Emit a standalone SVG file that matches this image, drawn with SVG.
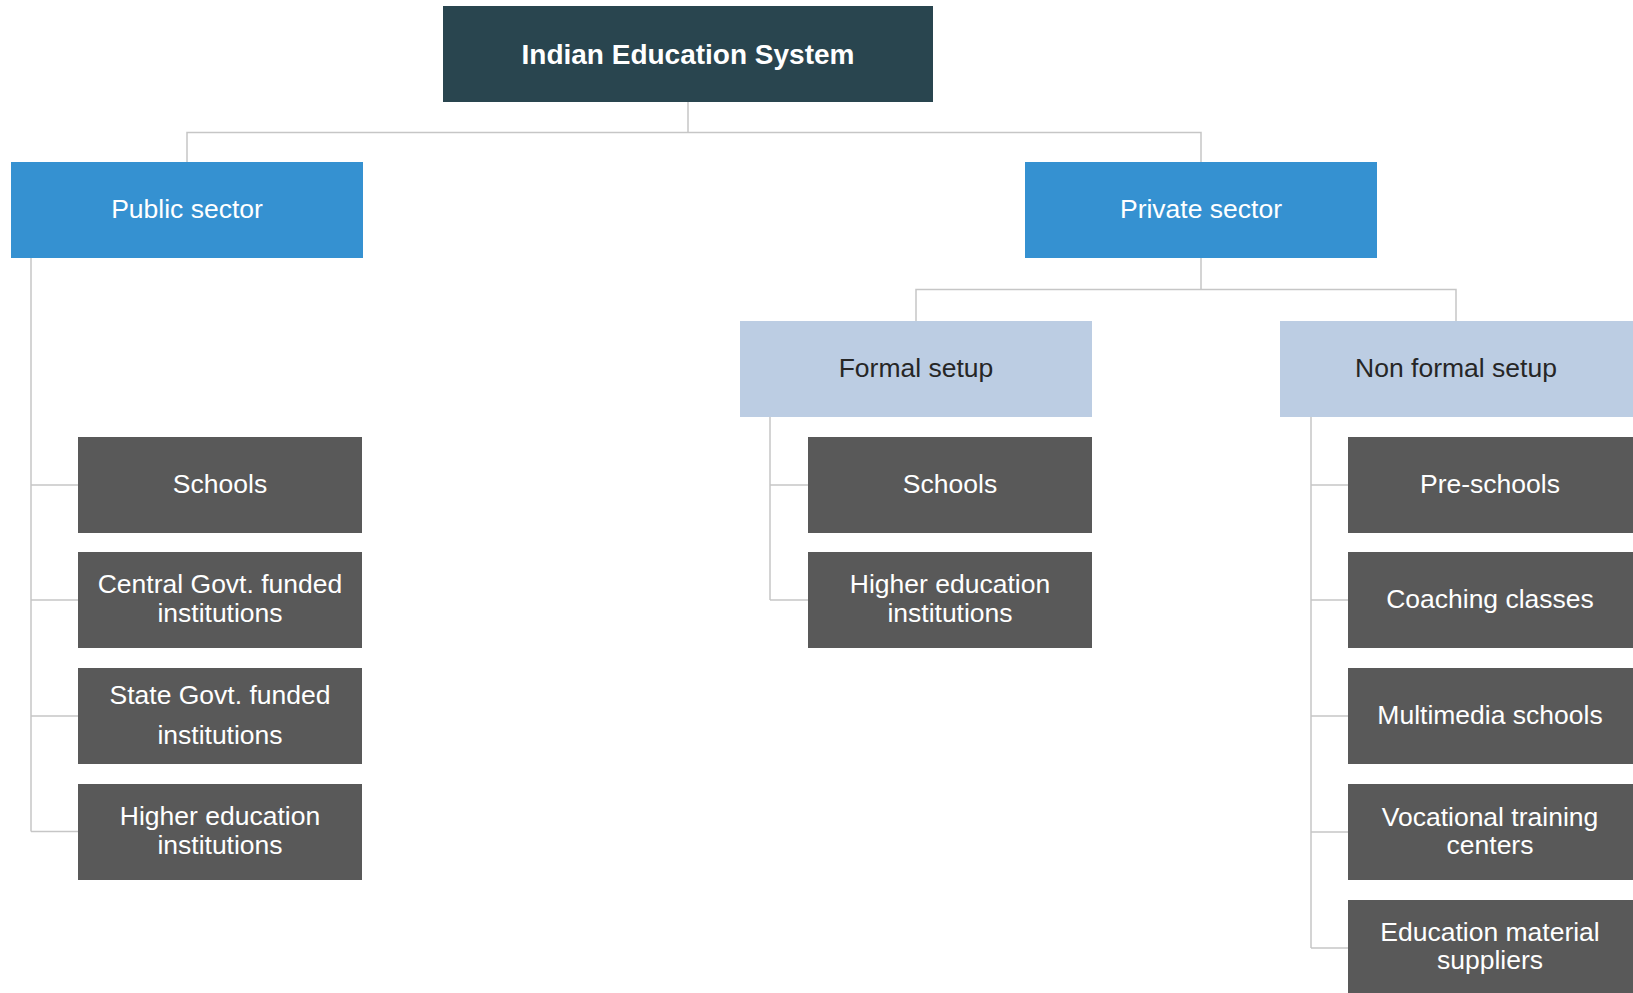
<svg xmlns="http://www.w3.org/2000/svg" width="1633" height="993" viewBox="0 0 1633 993">
<style>
.c{fill:none;stroke:#c6c6c6;stroke-width:1.5}
.t{font-family:"Liberation Sans",Arial,sans-serif;font-size:26.5px;text-anchor:middle}
.w{fill:#ffffff}
.d{fill:#262626}
.root{fill:#29454f}
.sec{fill:#3591d1}
.sub{fill:#bccde3}
.leaf{fill:#595959}
</style>
<rect width="1633" height="993" fill="#ffffff"/>
<g id="connectors">
<path class="c" d="M688,102V132.5M187,162V132.5H1201V162"/>
<path class="c" d="M1201,258V289.5M916,321V289.5H1456V321"/>
<path class="c" d="M31,258V831.5M31,485H78M31,600H78M31,716H78M31,831.5H78"/>
<path class="c" d="M770,417V600M770,485H808M770,600H808"/>
<path class="c" d="M1311,417V948M1311,485H1348M1311,600H1348M1311,716H1348M1311,832H1348M1311,948H1348"/>
</g>
<g id="root"><rect class="root" x="443" y="6" width="490" height="96"/><text class="t w" x="688" y="64" style="font-weight:bold;font-size:28px">Indian Education System</text></g>
<g id="public"><rect class="sec" x="11" y="162" width="352" height="96"/><text class="t w" x="187" y="218">Public sector</text></g>
<g id="private"><rect class="sec" x="1025" y="162" width="352" height="96"/><text class="t w" x="1201" y="218">Private sector</text></g>
<g id="formal"><rect class="sub" x="740" y="321" width="352" height="96"/><text class="t d" x="916" y="377">Formal setup</text></g>
<g id="nonformal"><rect class="sub" x="1280" y="321" width="353" height="96"/><text class="t d" x="1456" y="377">Non formal setup</text></g>
<g id="pub-schools"><rect class="leaf" x="78" y="437" width="284" height="96"/><text class="t w" x="220" y="492.5">Schools</text></g>
<g id="pub-central"><rect class="leaf" x="78" y="552" width="284" height="96"/><text class="t w" x="220" y="593">Central Govt. funded</text><text class="t w" x="220" y="621.5">institutions</text></g>
<g id="pub-state"><rect class="leaf" x="78" y="668" width="284" height="96"/><text class="t w" x="220" y="703.5">State Govt. funded</text><text class="t w" x="220" y="743.5">institutions</text></g>
<g id="pub-higher"><rect class="leaf" x="78" y="784" width="284" height="96"/><text class="t w" x="220" y="825">Higher education</text><text class="t w" x="220" y="853.5">institutions</text></g>
<g id="formal-schools"><rect class="leaf" x="808" y="437" width="284" height="96"/><text class="t w" x="950" y="492.5">Schools</text></g>
<g id="formal-higher"><rect class="leaf" x="808" y="552" width="284" height="96"/><text class="t w" x="950" y="593">Higher education</text><text class="t w" x="950" y="621.5">institutions</text></g>
<g id="preschools"><rect class="leaf" x="1348" y="437" width="285" height="96"/><text class="t w" x="1490" y="492.5">Pre-schools</text></g>
<g id="coaching"><rect class="leaf" x="1348" y="552" width="285" height="96"/><text class="t w" x="1490" y="608">Coaching classes</text></g>
<g id="multimedia"><rect class="leaf" x="1348" y="668" width="285" height="96"/><text class="t w" x="1490" y="724">Multimedia schools</text></g>
<g id="vocational"><rect class="leaf" x="1348" y="784" width="285" height="96"/><text class="t w" x="1490" y="825.5">Vocational training</text><text class="t w" x="1490" y="854">centers</text></g>
<g id="material"><rect class="leaf" x="1348" y="900" width="285" height="96"/><text class="t w" x="1490" y="941">Education material</text><text class="t w" x="1490" y="969">suppliers</text></g>
</svg>
